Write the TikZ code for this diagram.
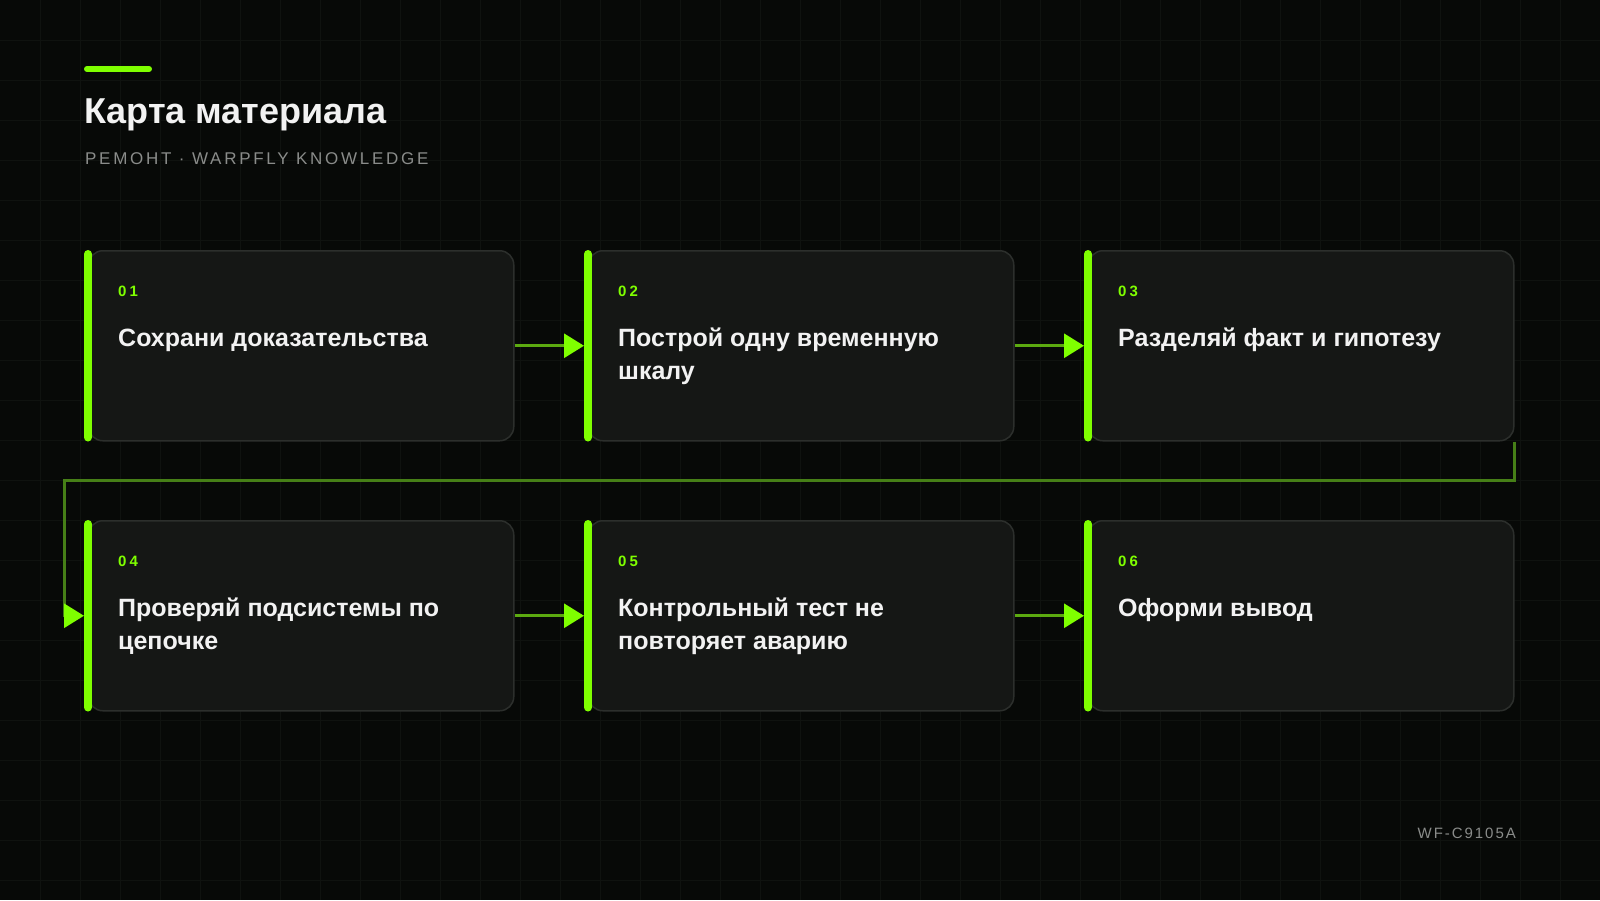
\documentclass[tikz,border=0pt]{standalone}
\usepackage{fontspec}
\setmainfont{Liberation Sans}
\usetikzlibrary{arrows.meta}
\definecolor{bgc}{HTML}{070907}
\definecolor{gridc}{HTML}{0F120F}
\definecolor{cardfill}{HTML}{151715}
\definecolor{cardline}{HTML}{2C2F2C}
\definecolor{lime}{HTML}{7FFF00}
\definecolor{flowc}{HTML}{5CAA10}
\definecolor{loopc}{HTML}{467F17}
\definecolor{greyc}{HTML}{8A8C8A}
\definecolor{whitec}{HTML}{F2F2F2}
\tikzset{
  cardbox/.style={anchor=north west, minimum width=425pt, minimum height=190pt,
    rounded corners=14pt, fill=cardfill, draw=cardline, line width=1.5pt, inner sep=0pt},
  leftbar/.style={draw=lime, line width=8pt, line cap=round},
  numtxt/.style={anchor=base west, inner sep=0pt, text=lime,
    font=\fontsize{15}{18}\selectfont\bfseries\addfontfeatures{LetterSpace=20}},
  titletxt/.style={anchor=base west, inner sep=0pt, text=whitec,
    font=\fontsize{25}{33}\selectfont\bfseries},
  flow/.style={draw=flowc, line width=3pt, -{Triangle[length=20pt,width=24pt,color=lime,fill=lime]}},
  loopline/.style={draw=loopc, line width=3pt, -{Triangle[length=20pt,width=24pt,color=lime,fill=lime]}},
  accent/.style={draw=lime, line width=6pt, line cap=round}
}
\newcommand\mkcard[5]{%
  \node[cardbox] (#1) at (#2,#3) {};
  \draw[leftbar] ([yshift=-4pt]#1.north west) -- ([yshift=4pt]#1.south west);
  \node[numtxt] (#1n) at ([xshift=30pt,yshift=-46pt]#1.north west) {#4};
  \node[titletxt] (#1t) at ([xshift=30pt,yshift=-96pt]#1.north west)
    {\parbox[t]{385pt}{\raggedright #5}};
}
\begin{document}
\begin{tikzpicture}[x=1pt,y=-1pt]
\fill[bgc] (0,0) rectangle (1600,900);
\useasboundingbox (0,0) rectangle (1600,900);
\foreach \i in {40,80,...,1560} \draw[gridc, line width=1pt] (\i,0) -- (\i,900);
\foreach \j in {40,80,...,880} \draw[gridc, line width=1pt] (0,\j) -- (1600,\j);

% header
\draw[accent] (87,69) -- (149,69);
\node[anchor=base west, inner sep=0pt, text=whitec,
  font=\fontsize{36}{42}\selectfont\bfseries] (title) at (84,123) {Карта материала};
\node[anchor=base west, inner sep=0pt, text=greyc,
  font=\fontsize{17}{20}\selectfont\addfontfeatures{LetterSpace=16}] (sub) at (85,164)
  {РЕМОНТ · WARPFLY KNOWLEDGE};

% cards
\mkcard{c1}{88}{250}{01}{Сохрани доказательства}
\mkcard{c2}{588}{250}{02}{Построй одну временную\\шкалу}
\mkcard{c3}{1088}{250}{03}{Разделяй факт и гипотезу}
\mkcard{c4}{88}{520}{04}{Проверяй подсистемы по\\цепочке}
\mkcard{c5}{588}{520}{05}{Контрольный тест не\\повторяет аварию}
\mkcard{c6}{1088}{520}{06}{Оформи вывод}

% connectors
\draw[flow] (c1.east) -- ([xshift=-4pt]c2.west);
\draw[flow] (c2.east) -- ([xshift=-4pt]c3.west);
\draw[flow] (c4.east) -- ([xshift=-4pt]c5.west);
\draw[flow] (c5.east) -- ([xshift=-4pt]c6.west);
\coordinate (k1) at (64,480);
\draw[loopline] (c3.south east) |- (k1) |- ([xshift=-4pt]c4.west);

% footer
\node[anchor=base east, inner sep=0pt, text=greyc,
  font=\fontsize{15}{18}\selectfont\addfontfeatures{LetterSpace=13}] (foot) at (1516,838) {WF-C9105A};
\end{tikzpicture}
\end{document}
